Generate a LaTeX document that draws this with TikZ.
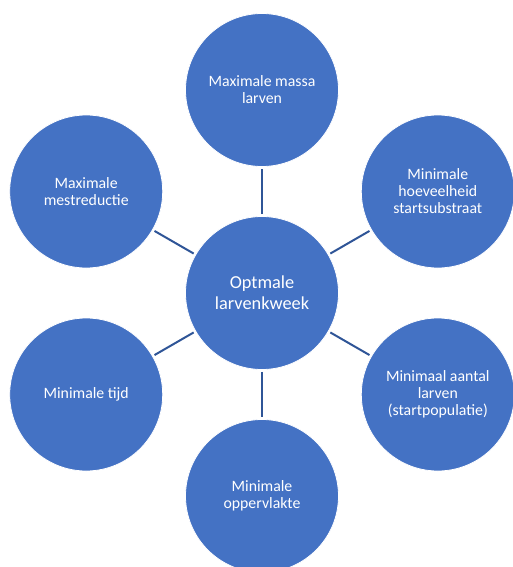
\documentclass[tikz,border=0pt]{standalone}
\usepackage{fontspec}
\setmainfont{Carlito}
\usetikzlibrary{positioning,calc}
\definecolor{bubbleblue}{RGB}{68,114,196}
\definecolor{spokeblue}{RGB}{47,85,151}

\begin{document}
\begin{tikzpicture}[x=1pt,y=1pt,every node/.style={font=\fontsize{15.8}{17}\selectfont, text=white}]
  \tikzstyle{bubble}=[circle, fill=bubbleblue, draw=white, line width=0.8pt, minimum size=153pt, inner sep=0pt, align=center]
  \tikzstyle{spoke}=[draw=spokeblue, line width=2pt, shorten <=2pt, shorten >=2pt]
  \useasboundingbox (0,0) rectangle (513,-567);
  % hub and the six goals around it
  \node[bubble, font=\fontsize{18.3}{21}\selectfont] (hub) at (262,-293) {Optmale\\larvenkweek};
  \node[bubble] (massa) at ($(hub)+(90:203pt)$) {Maximale massa\\larven};
  \node[bubble] (substraat) at ($(hub)+(30:203pt)$) {Minimale\\hoeveelheid\\startsubstraat};
  \node[bubble] (aantal) at ($(hub)+(-30:203pt)$) {Minimaal aantal\\larven\\(startpopulatie)};
  \node[bubble] (opp) at ($(hub)+(-90:203pt)$) {Minimale\\oppervlakte};
  \node[bubble] (tijd) at ($(hub)+(-150:203pt)$) {Minimale tijd};
  \node[bubble] (mest) at ($(hub)+(150:203pt)$) {Maximale\\mestreductie};
  % spokes
  \draw[spoke] (hub) -- (massa);
  \draw[spoke] (hub) -- (substraat);
  \draw[spoke] (hub) -- (aantal);
  \draw[spoke] (hub) -- (opp);
  \draw[spoke] (hub) -- (tijd);
  \draw[spoke] (hub) -- (mest);
\end{tikzpicture}
\end{document}
